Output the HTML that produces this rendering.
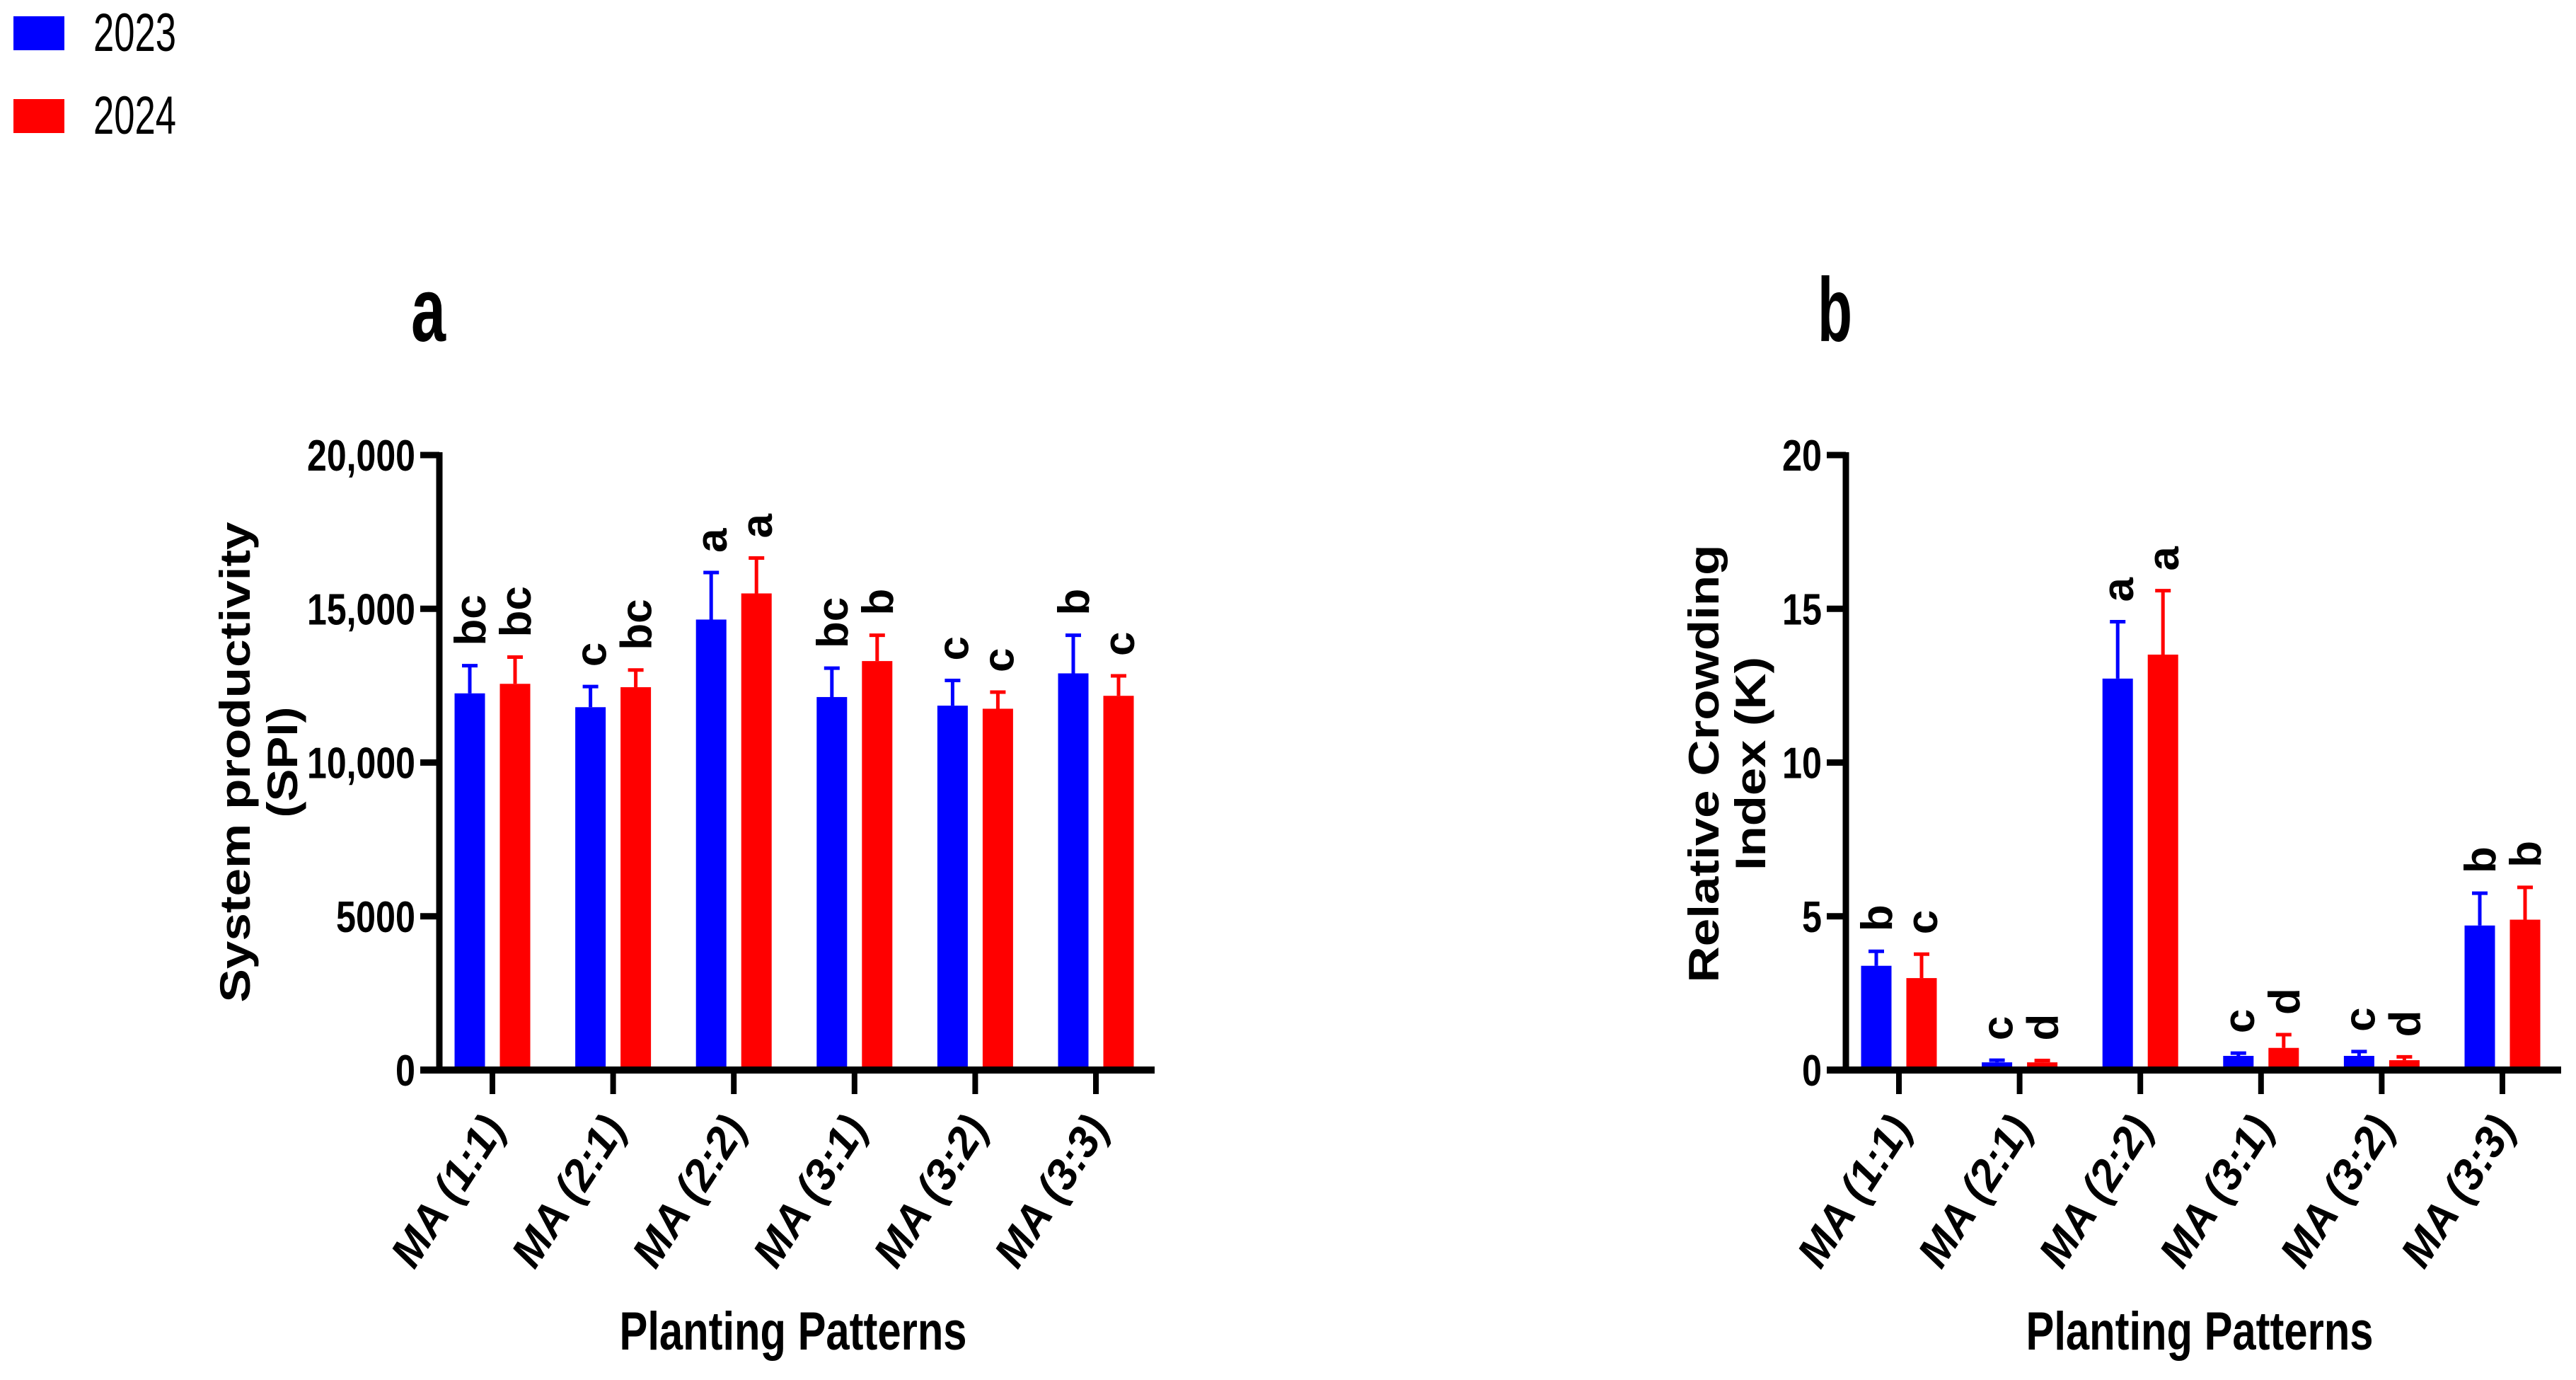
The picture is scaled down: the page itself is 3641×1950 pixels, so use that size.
<!DOCTYPE html>
<html><head><meta charset="utf-8">
<style>
html,body{margin:0;padding:0;background:#fff;}
svg{display:block;font-family:"Liberation Sans Narrow","Liberation Sans",sans-serif;}
</style></head>
<body>
<svg id="fig" width="3641" height="1950" viewBox="0 0 3641 1950" xmlns="http://www.w3.org/2000/svg">
  <g>
    <rect x="19" y="23" width="72" height="48" fill="#0000ff"/>
    <text x="132" y="72" font-size="76" textLength="117" lengthAdjust="spacingAndGlyphs">2023</text>
    <rect x="19" y="140" width="72" height="48" fill="#ff0000"/>
    <text x="132" y="189" font-size="76" textLength="117" lengthAdjust="spacingAndGlyphs">2024</text>
  </g>
  <g id="panelA"></g>
  <g id="panelB"></g>
</svg>
<script>
const categories = ["MA (1:1)","MA (2:1)","MA (2:2)","MA (3:1)","MA (3:2)","MA (3:3)"];
const spiTicks = [0,5000,10000,15000,20000];
const spiTickLabels = ["0","5000","10,000","15,000","20,000"];
const spi2023 = [12250,11800,14650,12130,11850,12900];
const spi2023Err = [900,670,1530,940,820,1240];
const spi2024 = [12560,12450,15500,13300,11750,12170];
const spi2024Err = [870,560,1150,840,540,650];
const spiLetters2023 = ["bc","c","a","bc","c","b"];
const spiLetters2024 = ["bc","bc","a","b","c","c"];
const rciTicks = [0,5,10,15,20];
const rciTickLabels = ["0","5","10","15","20"];
const rci2023 = [3.39,0.25,12.73,0.46,0.46,4.70];
const rci2023Err = [0.47,0.07,1.85,0.09,0.14,1.05];
const rci2024 = [2.99,0.25,13.51,0.72,0.32,4.89];
const rci2024Err = [0.78,0.06,2.08,0.43,0.11,1.05];
const rciLetters2023 = ["b","c","a","c","c","b"];
const rciLetters2024 = ["c","d","a","d","d","b"];

const NS = "http://www.w3.org/2000/svg";
function mk(parent, tag, attrs, text){
  const e = document.createElementNS(NS, tag);
  for (const k in attrs) e.setAttribute(k, attrs[k]);
  if (text !== undefined) e.textContent = text;
  parent.appendChild(e);
  return e;
}
function labelWidth(s){ let w=0; for (const c of s) w += (c===','?13:28); return w; }

function drawPanel(g, ox, cfg){
  const axisX = ox, y0 = 1512, yTop = 643, maxV = cfg.max;
  const yScale = v => y0 - v / maxV * (y0 - yTop);
  const xScale = i => axisX + 75 + i * 170.6;
  const bw = 43, off = 32;

  const heading = mk(g, "text", {x: ox - 40, y: 482, "font-size": 128, "font-weight": "bold", textLength: 49, lengthAdjust: "spacingAndGlyphs"}, cfg.heading);
  
  

  const t1 = mk(g, "text", {x: 0, y: 0, "font-size": 60, "font-weight": "bold", "font-family": "Liberation Sans, sans-serif", "text-anchor": "middle", textLength: cfg.t1len, lengthAdjust: "spacingAndGlyphs", transform: `translate(${ox + cfg.t1dx},${cfg.tcy}) rotate(-90)`}, cfg.title1);
  
  
  const t2 = mk(g, "text", {x: 0, y: 0, "font-size": 60, "font-weight": "bold", "font-family": "Liberation Sans, sans-serif", "text-anchor": "middle", textLength: cfg.t2len, lengthAdjust: "spacingAndGlyphs", transform: `translate(${ox + cfg.t2dx},${cfg.tcy}) rotate(-90)`}, cfg.title2);
  
  

  const series = [
    {vals: cfg.v1, err: cfg.e1, let: cfg.l1, col: "#0000ff", d: -off, name: "2023"},
    {vals: cfg.v2, err: cfg.e2, let: cfg.l2, col: "#ff0000", d: off, name: "2024"}
  ];
  series.forEach(s => {
    s.vals.forEach((v, i) => {
      const cx = xScale(i) + s.d;
      const top = yScale(v), et = yScale(v + s.err[i]);
      const r = mk(g, "rect", {x: cx - bw/2, y: top, width: bw, height: y0 - top, fill: s.col});
      
      
      const el = mk(g, "path", {d: `M${cx},${top} V${et} M${cx-11},${et} H${cx+11}`, stroke: s.col, "stroke-width": 5, fill: "none"});
      
      
      const lt = mk(g, "text", {x: 0, y: 0, "font-size": 62, "font-weight": "bold", "font-family": "Liberation Sans, sans-serif", transform: `translate(${cx + 22},${et - 28}) rotate(-90)`}, s.let[i]);
      
      
    });
  });

  const ya = mk(g, "line", {x1: axisX, y1: yTop - 4, x2: axisX, y2: y0 + 5, stroke: "#000", "stroke-width": 9});
  
  
  const xa = mk(g, "line", {x1: axisX - 27, y1: y0, x2: axisX + 1011, y2: y0, stroke: "#000", "stroke-width": 10});
  
  

  cfg.ticks.forEach((tv, k) => {
    const ty = yScale(tv);
    const tk = mk(g, "line", {x1: axisX - 27, y1: ty, x2: axisX, y2: ty, stroke: "#000", "stroke-width": 9});
    
    
    const lab = cfg.tickLabels[k];
    const tl = mk(g, "text", {x: axisX - 34, y: ty + 22, "font-size": 62, "font-weight": "bold", "text-anchor": "end", textLength: labelWidth(lab), lengthAdjust: "spacingAndGlyphs"}, lab);
    
    
  });

  categories.forEach((c, i) => {
    const tx = xScale(i);
    const tk = mk(g, "line", {x1: tx, y1: y0, x2: tx, y2: y0 + 34, stroke: "#000", "stroke-width": 8});
    
    
    const cl = mk(g, "text", {x: 0, y: 0, "font-size": 62, "font-weight": "bold", "font-style": "italic", "font-family": "Liberation Sans, sans-serif", "text-anchor": "end", textLength: 240, lengthAdjust: "spacingAndGlyphs", transform: `translate(${tx + 20},${1594}) rotate(-57)`}, c);
    
    
  });

  const xt = mk(g, "text", {x: axisX + 500, y: 1907, "font-size": 76, "font-weight": "bold", "text-anchor": "middle", textLength: 491, lengthAdjust: "spacingAndGlyphs"}, "Planting Patterns");
  
  
}

drawPanel(document.getElementById("panelA"), 621, {
  heading: "a", max: 20000, ticks: spiTicks, tickLabels: spiTickLabels,
  v1: spi2023, e1: spi2023Err, v2: spi2024, e2: spi2024Err, l1: spiLetters2023, l2: spiLetters2024,
  title1: "System productivity", title2: "(SPI)", t1dx: 353 - 621, t2dx: 420 - 621, t1len: 679, t2len: 157, tcy: 1077
});
drawPanel(document.getElementById("panelB"), 2609, {
  heading: "b", max: 20, ticks: rciTicks, tickLabels: rciTickLabels,
  v1: rci2023, e1: rci2023Err, v2: rci2024, e2: rci2024Err, l1: rciLetters2023, l2: rciLetters2024,
  title1: "Relative Crowding", title2: "Index (K)", t1dx: 2429 - 2609, t2dx: 2495 - 2609, t1len: 619, t2len: 302, tcy: 1079
});
</script>
</body></html>
